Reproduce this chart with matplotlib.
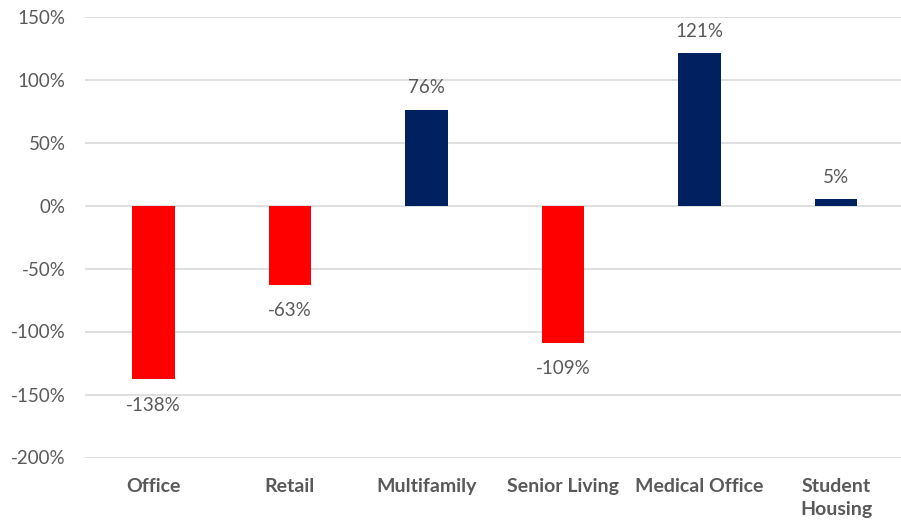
import matplotlib
matplotlib.use("Agg")
import matplotlib.pyplot as plt
import matplotlib.ticker as mticker

# data
categories = ["Office", "Retail", "Multifamily", "Senior Living", "Medical Office", "Student\nHousing"]
values = [-138, -63, 76, -109, 121, 5]
y_ticks = [-200, -150, -100, -50, 0, 50, 100, 150]

plt.rcParams['font.family'] = ['Lato', 'DejaVu Sans']
text_grey = '#595959'
grid_grey = '#D9D9D9'

fig = plt.figure(figsize=(9.01, 5.21), dpi=100)
W, H = 901, 521
left, right = 85.25, 904.25
top, bottom = 16.5, 457.5
ax = fig.add_axes([left / W, (H - bottom) / H, (right - left) / W, (bottom - top) / H])

x = list(range(len(categories)))
colors = ['#FF0000' if v < 0 else '#002060' for v in values]
ax.bar(x, values, width=0.315, color=colors, zorder=3)

# value labels above / below the bars
for xi, v in zip(x, values):
    off = 22 if v >= 0 else -26
    ax.annotate(f"{v}%", (xi, v), xytext=(0, off), textcoords='offset pixels',
                ha='center', va='center', fontsize=13.5, color=text_grey)

ax.set_xlim(-0.5, len(categories) - 0.5)
ax.set_ylim(-200, 150)
ax.set_yticks(y_ticks)
ax.yaxis.set_major_formatter(mticker.FuncFormatter(lambda v, p: f"{int(v)}%"))
ax.grid(axis='y', color=grid_grey, linewidth=1.2, zorder=0)

ax.set_xticks(x)
ax.set_xticklabels(categories, fontsize=14, fontweight='bold', color=text_grey, va='top', linespacing=1.4)
ax.tick_params(axis='x', length=0, pad=15)
ax.tick_params(axis='y', length=0, pad=14, labelsize=13.5, labelcolor=text_grey)

for spine in ax.spines.values():
    spine.set_visible(False)

fig.savefig("out.png", dpi=100)
